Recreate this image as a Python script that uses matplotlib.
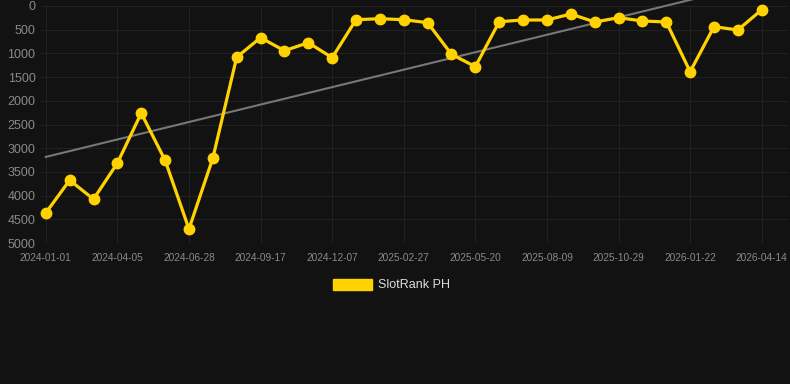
import numpy as np
import matplotlib
matplotlib.use("Agg")
import matplotlib.pyplot as plt

plt.rcParams["font.family"] = ["Liberation Sans", "DejaVu Sans"]

# data
rank_values = [4367, 3675, 4075, 3315, 2260, 3255, 4705, 3210, 1080, 668,
               943, 774, 1090, 289, 268, 289, 352, 1020, 1280, 331,
               295, 295, 169, 337, 246, 316, 337, 1386, 436, 506, 78]
tick_labels = ["2024-01-01", "2024-04-05", "2024-06-28", "2024-09-17", "2024-12-07",
               "2025-02-27", "2025-05-20", "2025-08-09", "2025-10-29", "2026-01-22",
               "2026-04-14"]
series_name = "SlotRank PH"
y_ticks = [0, 500, 1000, 1500, 2000, 2500, 3000, 3500, 4000, 4500, 5000]

BG = "#121212"
W, H = 790, 384
fig = plt.figure(figsize=(W / 100, H / 100), dpi=100, facecolor=BG)
ax = fig.add_axes([41 / W, 1 - 243 / H, (788 - 41) / W, (243 - 6) / H])
ax.set_facecolor(BG)

x = np.arange(len(rank_values))
vals = np.array(rank_values, dtype=float)

# trend line (linear regression)
coef = np.polyfit(x, vals, 1)
trend = np.polyval(coef, x)
ax.plot(x, trend, color="#777777", lw=1.5, zorder=2, clip_on=False)

ax.plot(x, vals, color="#FFD200", lw=2.3, marker="o", markersize=7.5,
        markerfacecolor="#FFD200", markeredgecolor="#FFD200", zorder=3,
        clip_on=False)

ax.set_xlim(-0.2, 31.1)
ax.set_ylim(5000, 0)
ax.set_yticks(y_ticks)
ax.set_yticklabels([str(v) for v in y_ticks])
tick_pos = x[::3]
ax.set_xticks(tick_pos)
ax.set_xticklabels(tick_labels)

ax.tick_params(axis="y", length=0, pad=4, labelsize=9, labelcolor="#8a8a8a")
ax.tick_params(axis="x", length=0, pad=7, labelsize=7.3, labelcolor="#8a8a8a")
ax.grid(True, color="#212121", lw=0.8)
ax.set_axisbelow(True)
for s in ax.spines.values():
    s.set_visible(False)

# legend
lx0, ly0 = 333 / W, 1 - 290 / H
fig.patches.append(matplotlib.patches.Rectangle((lx0, ly0), 39 / W, 11 / H,
                   transform=fig.transFigure, color="#FFD200", figure=fig))
fig.text(378 / W, 1 - 285 / H, series_name, color="#dddddd", fontsize=9,
         va="center", ha="left")

fig.savefig("out.png", dpi=100, facecolor=BG)
